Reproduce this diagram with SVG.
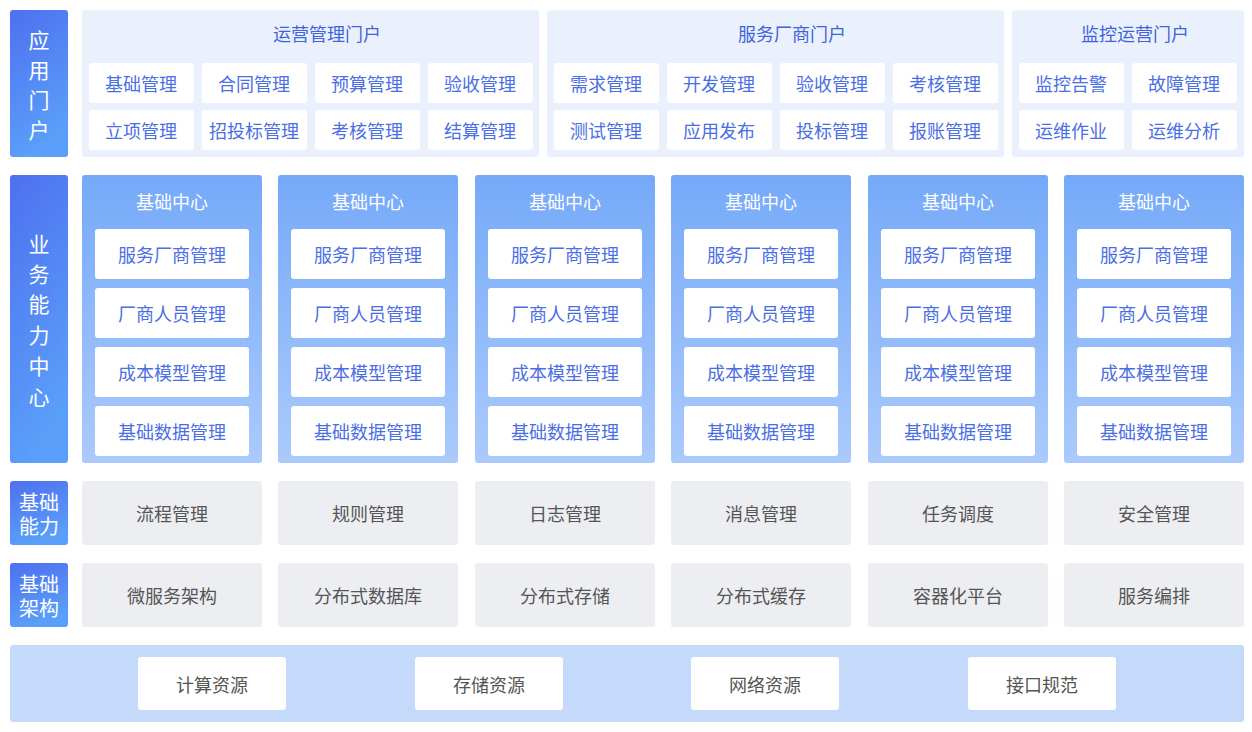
<svg xmlns="http://www.w3.org/2000/svg" width="1252" height="732" viewBox="0 0 1252 732">
<defs>
<linearGradient id="gL" x1="0" y1="0" x2="0.3" y2="1"><stop offset="0" stop-color="#4e70ef"/><stop offset="1" stop-color="#5a9ff9"/></linearGradient>
<linearGradient id="gC" x1="0" y1="0" x2="0" y2="1"><stop offset="0" stop-color="#75a9f8"/><stop offset="1" stop-color="#abcafc"/></linearGradient>
</defs>
<style>
text{font-family:"Noto Sans CJK SC","Noto Sans",sans-serif;text-anchor:middle;dominant-baseline:central}
.lab{fill:url(#gL)}
.lt{fill:#fff;font-size:21px}
.lt2{fill:#fff;font-size:20px}
.panel{fill:#eaf1fd}
.pt{fill:#3f63df;font-size:18px}
.wb{fill:#fff}
.it{fill:#4a6ee6;font-size:18px}
.col{fill:url(#gC)}
.ct{fill:#fff;font-size:18px}
.gb{fill:#edeef2}
.gt{fill:#555;font-size:18px}
.band{fill:#c5d9fb}
</style>
<g id="labels">
<rect class="lab" x="10" y="10" width="58" height="147" rx="3"/>
<text class="lt" x="39" y="39">应</text><text class="lt" x="39" y="69">用</text><text class="lt" x="39" y="99">门</text><text class="lt" x="39" y="129">户</text>
<rect class="lab" x="10" y="175" width="58" height="288" rx="3"/>
<text class="lt" x="39" y="243">业</text><text class="lt" x="39" y="273">务</text><text class="lt" x="39" y="303">能</text><text class="lt" x="39" y="334">力</text><text class="lt" x="39" y="365">中</text><text class="lt" x="39" y="396">心</text>
<rect class="lab" x="10" y="481" width="58" height="64" rx="3"/>
<text class="lt2" x="39" y="501"><tspan x="39" y="501">基础</tspan><tspan x="39" y="525">能力</tspan></text>
<rect class="lab" x="10" y="563" width="58" height="64" rx="3"/>
<text class="lt2" x="39" y="583"><tspan x="39" y="583">基础</tspan><tspan x="39" y="607">架构</tspan></text>
</g>
<g id="portal1">
<rect class="panel" x="82" y="10" width="457" height="147" rx="3"/>
<text class="pt" x="327" y="33">运营管理门户</text>
<rect class="wb" x="89" y="63" width="105" height="40" rx="3"/><text class="it" x="141" y="83">基础管理</text>
<rect class="wb" x="202" y="63" width="105" height="40" rx="3"/><text class="it" x="254" y="83">合同管理</text>
<rect class="wb" x="315" y="63" width="105" height="40" rx="3"/><text class="it" x="367" y="83">预算管理</text>
<rect class="wb" x="428" y="63" width="105" height="40" rx="3"/><text class="it" x="480" y="83">验收管理</text>
<rect class="wb" x="89" y="110" width="105" height="40" rx="3"/><text class="it" x="141" y="130">立项管理</text>
<rect class="wb" x="202" y="110" width="105" height="40" rx="3"/><text class="it" x="254" y="130">招投标管理</text>
<rect class="wb" x="315" y="110" width="105" height="40" rx="3"/><text class="it" x="367" y="130">考核管理</text>
<rect class="wb" x="428" y="110" width="105" height="40" rx="3"/><text class="it" x="480" y="130">结算管理</text>
</g>
<g id="portal2">
<rect class="panel" x="547" y="10" width="457" height="147" rx="3"/>
<text class="pt" x="792" y="33">服务厂商门户</text>
<rect class="wb" x="554" y="63" width="105" height="40" rx="3"/><text class="it" x="606" y="83">需求管理</text>
<rect class="wb" x="667" y="63" width="105" height="40" rx="3"/><text class="it" x="719" y="83">开发管理</text>
<rect class="wb" x="780" y="63" width="105" height="40" rx="3"/><text class="it" x="832" y="83">验收管理</text>
<rect class="wb" x="893" y="63" width="105" height="40" rx="3"/><text class="it" x="945" y="83">考核管理</text>
<rect class="wb" x="554" y="110" width="105" height="40" rx="3"/><text class="it" x="606" y="130">测试管理</text>
<rect class="wb" x="667" y="110" width="105" height="40" rx="3"/><text class="it" x="719" y="130">应用发布</text>
<rect class="wb" x="780" y="110" width="105" height="40" rx="3"/><text class="it" x="832" y="130">投标管理</text>
<rect class="wb" x="893" y="110" width="105" height="40" rx="3"/><text class="it" x="945" y="130">报账管理</text>
</g>
<g id="portal3">
<rect class="panel" x="1012" y="10" width="232" height="147" rx="3"/>
<text class="pt" x="1135" y="33">监控运营门户</text>
<rect class="wb" x="1019" y="63" width="105" height="40" rx="3"/><text class="it" x="1071" y="83">监控告警</text>
<rect class="wb" x="1132" y="63" width="105" height="40" rx="3"/><text class="it" x="1184" y="83">故障管理</text>
<rect class="wb" x="1019" y="110" width="105" height="40" rx="3"/><text class="it" x="1071" y="130">运维作业</text>
<rect class="wb" x="1132" y="110" width="105" height="40" rx="3"/><text class="it" x="1184" y="130">运维分析</text>
</g>
<g id="centers">
<g id="c1" transform="translate(82,0)">
<rect class="col" x="0" y="175" width="180" height="288" rx="3"/><text class="ct" x="90" y="201">基础中心</text>
<rect class="wb" x="13" y="229" width="154" height="50" rx="3"/><text class="it" x="90" y="254">服务厂商管理</text>
<rect class="wb" x="13" y="288" width="154" height="50" rx="3"/><text class="it" x="90" y="313">厂商人员管理</text>
<rect class="wb" x="13" y="347" width="154" height="50" rx="3"/><text class="it" x="90" y="372">成本模型管理</text>
<rect class="wb" x="13" y="406" width="154" height="50" rx="3"/><text class="it" x="90" y="431">基础数据管理</text>
</g>
<g id="c2" transform="translate(278,0)">
<rect class="col" x="0" y="175" width="180" height="288" rx="3"/><text class="ct" x="90" y="201">基础中心</text>
<rect class="wb" x="13" y="229" width="154" height="50" rx="3"/><text class="it" x="90" y="254">服务厂商管理</text>
<rect class="wb" x="13" y="288" width="154" height="50" rx="3"/><text class="it" x="90" y="313">厂商人员管理</text>
<rect class="wb" x="13" y="347" width="154" height="50" rx="3"/><text class="it" x="90" y="372">成本模型管理</text>
<rect class="wb" x="13" y="406" width="154" height="50" rx="3"/><text class="it" x="90" y="431">基础数据管理</text>
</g>
<g id="c3" transform="translate(475,0)">
<rect class="col" x="0" y="175" width="180" height="288" rx="3"/><text class="ct" x="90" y="201">基础中心</text>
<rect class="wb" x="13" y="229" width="154" height="50" rx="3"/><text class="it" x="90" y="254">服务厂商管理</text>
<rect class="wb" x="13" y="288" width="154" height="50" rx="3"/><text class="it" x="90" y="313">厂商人员管理</text>
<rect class="wb" x="13" y="347" width="154" height="50" rx="3"/><text class="it" x="90" y="372">成本模型管理</text>
<rect class="wb" x="13" y="406" width="154" height="50" rx="3"/><text class="it" x="90" y="431">基础数据管理</text>
</g>
<g id="c4" transform="translate(671,0)">
<rect class="col" x="0" y="175" width="180" height="288" rx="3"/><text class="ct" x="90" y="201">基础中心</text>
<rect class="wb" x="13" y="229" width="154" height="50" rx="3"/><text class="it" x="90" y="254">服务厂商管理</text>
<rect class="wb" x="13" y="288" width="154" height="50" rx="3"/><text class="it" x="90" y="313">厂商人员管理</text>
<rect class="wb" x="13" y="347" width="154" height="50" rx="3"/><text class="it" x="90" y="372">成本模型管理</text>
<rect class="wb" x="13" y="406" width="154" height="50" rx="3"/><text class="it" x="90" y="431">基础数据管理</text>
</g>
<g id="c5" transform="translate(868,0)">
<rect class="col" x="0" y="175" width="180" height="288" rx="3"/><text class="ct" x="90" y="201">基础中心</text>
<rect class="wb" x="13" y="229" width="154" height="50" rx="3"/><text class="it" x="90" y="254">服务厂商管理</text>
<rect class="wb" x="13" y="288" width="154" height="50" rx="3"/><text class="it" x="90" y="313">厂商人员管理</text>
<rect class="wb" x="13" y="347" width="154" height="50" rx="3"/><text class="it" x="90" y="372">成本模型管理</text>
<rect class="wb" x="13" y="406" width="154" height="50" rx="3"/><text class="it" x="90" y="431">基础数据管理</text>
</g>
<g id="c6" transform="translate(1064,0)">
<rect class="col" x="0" y="175" width="180" height="288" rx="3"/><text class="ct" x="90" y="201">基础中心</text>
<rect class="wb" x="13" y="229" width="154" height="50" rx="3"/><text class="it" x="90" y="254">服务厂商管理</text>
<rect class="wb" x="13" y="288" width="154" height="50" rx="3"/><text class="it" x="90" y="313">厂商人员管理</text>
<rect class="wb" x="13" y="347" width="154" height="50" rx="3"/><text class="it" x="90" y="372">成本模型管理</text>
<rect class="wb" x="13" y="406" width="154" height="50" rx="3"/><text class="it" x="90" y="431">基础数据管理</text>
</g>
</g>
<g id="ability">
<rect class="gb" x="82" y="481" width="180" height="64" rx="3"/><text class="gt" x="172" y="513">流程管理</text>
<rect class="gb" x="278" y="481" width="180" height="64" rx="3"/><text class="gt" x="368" y="513">规则管理</text>
<rect class="gb" x="475" y="481" width="180" height="64" rx="3"/><text class="gt" x="565" y="513">日志管理</text>
<rect class="gb" x="671" y="481" width="180" height="64" rx="3"/><text class="gt" x="761" y="513">消息管理</text>
<rect class="gb" x="868" y="481" width="180" height="64" rx="3"/><text class="gt" x="958" y="513">任务调度</text>
<rect class="gb" x="1064" y="481" width="180" height="64" rx="3"/><text class="gt" x="1154" y="513">安全管理</text>
</g>
<g id="infra">
<rect class="gb" x="82" y="563" width="180" height="64" rx="3"/><text class="gt" x="172" y="595">微服务架构</text>
<rect class="gb" x="278" y="563" width="180" height="64" rx="3"/><text class="gt" x="368" y="595">分布式数据库</text>
<rect class="gb" x="475" y="563" width="180" height="64" rx="3"/><text class="gt" x="565" y="595">分布式存储</text>
<rect class="gb" x="671" y="563" width="180" height="64" rx="3"/><text class="gt" x="761" y="595">分布式缓存</text>
<rect class="gb" x="868" y="563" width="180" height="64" rx="3"/><text class="gt" x="958" y="595">容器化平台</text>
<rect class="gb" x="1064" y="563" width="180" height="64" rx="3"/><text class="gt" x="1154" y="595">服务编排</text>
</g>
<g id="resources">
<rect class="band" x="10" y="645" width="1234" height="77" rx="3"/>
<rect class="wb" x="138" y="657" width="148" height="53" rx="3"/><text class="gt" x="212" y="684">计算资源</text>
<rect class="wb" x="415" y="657" width="148" height="53" rx="3"/><text class="gt" x="489" y="684">存储资源</text>
<rect class="wb" x="691" y="657" width="148" height="53" rx="3"/><text class="gt" x="765" y="684">网络资源</text>
<rect class="wb" x="968" y="657" width="148" height="53" rx="3"/><text class="gt" x="1042" y="684">接口规范</text>
</g>
<g id="connectors"/>
</svg>
